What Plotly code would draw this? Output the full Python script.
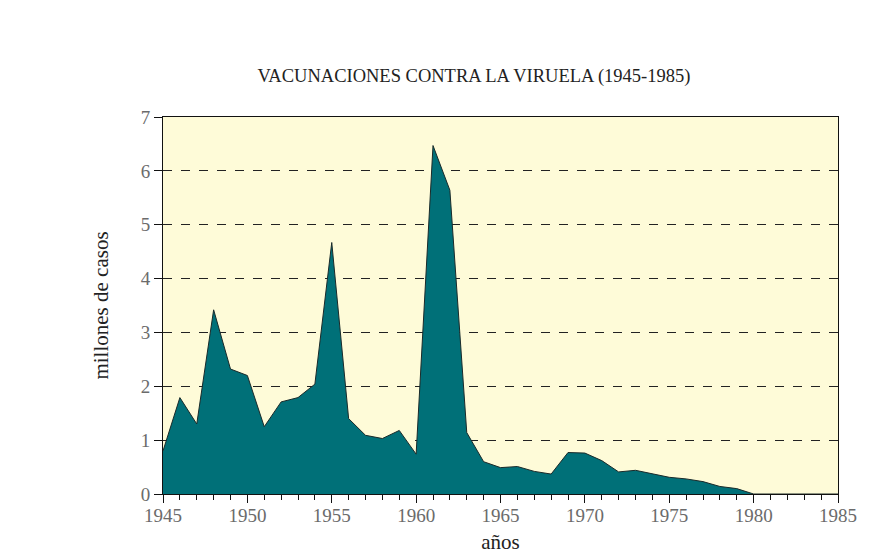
import plotly.graph_objects as go

years = list(range(1945, 1986))
vaccinations = [
    0.80, 1.79, 1.30, 3.42, 2.32, 2.20, 1.25, 1.71, 1.79, 2.04,
    4.67, 1.40, 1.09, 1.03, 1.18, 0.74, 6.47, 5.64, 1.14, 0.60,
    0.49, 0.51, 0.42, 0.37, 0.77, 0.76, 0.62, 0.41, 0.44, 0.38,
    0.31, 0.28, 0.23, 0.14, 0.10, 0.0, 0.0, 0.0, 0.0, 0.0, 0.0,
]
x_ticks = [1945, 1950, 1955, 1960, 1965, 1970, 1975, 1980, 1985]
y_ticks = [0, 1, 2, 3, 4, 5, 6, 7]

serif = "Liberation Serif, Times New Roman, serif"

fig = go.Figure(
    go.Scatter(
        x=years,
        y=vaccinations,
        mode="lines",
        fill="tozeroy",
        fillcolor="#007078",
        line=dict(color="#1a2a2a", width=1),
        hoverinfo="x+y",
    )
)

# page has an 8px body margin, so the figure is a bit smaller than the window
fig.update_layout(
    width=866,
    height=550,
    margin=dict(l=155, r=36, t=109, b=64),
    paper_bgcolor="white",
    plot_bgcolor="#fefbd8",
    showlegend=False,
    font=dict(family=serif, color="#222"),
    title=dict(
        text="VACUNACIONES CONTRA LA VIRUELA (1945-1985)",
        x=0.538,
        xanchor="center",
        xref="container",
        y=0.878,
        yanchor="middle",
        font=dict(family=serif, size=18.5, color="#222"),
    ),
    xaxis=dict(
        range=[1945, 1985],
        tickvals=x_ticks,
        ticks="outside",
        ticklen=8,
        tickwidth=1,
        tickcolor="#111",
        minor=dict(dtick=1, ticks="outside", ticklen=5, tickwidth=1, tickcolor="#111"),
        showline=True,
        linecolor="#111",
        linewidth=1,
        mirror=True,
        showgrid=False,
        zeroline=False,
        automargin=False,
        ticklabelstandoff=-4,
        tickfont=dict(family=serif, size=19, color="#6b6b6b"),
        title=dict(text="años", font=dict(family=serif, size=21, color="#222"), standoff=9),
    ),
    yaxis=dict(
        range=[0, 7],
        tickvals=y_ticks,
        ticks="outside",
        ticklen=8,
        tickwidth=1,
        tickcolor="#111",
        showline=True,
        linecolor="#111",
        linewidth=1,
        mirror=True,
        showgrid=True,
        gridcolor="#222",
        griddash="dash",
        gridwidth=1,
        zeroline=False,
        automargin=False,
        tickfont=dict(family=serif, size=19, color="#6b6b6b"),
        title=dict(text="millones de casos", font=dict(family=serif, size=21, color="#222"), standoff=26),
    ),
)

fig.write_html("out.html")
